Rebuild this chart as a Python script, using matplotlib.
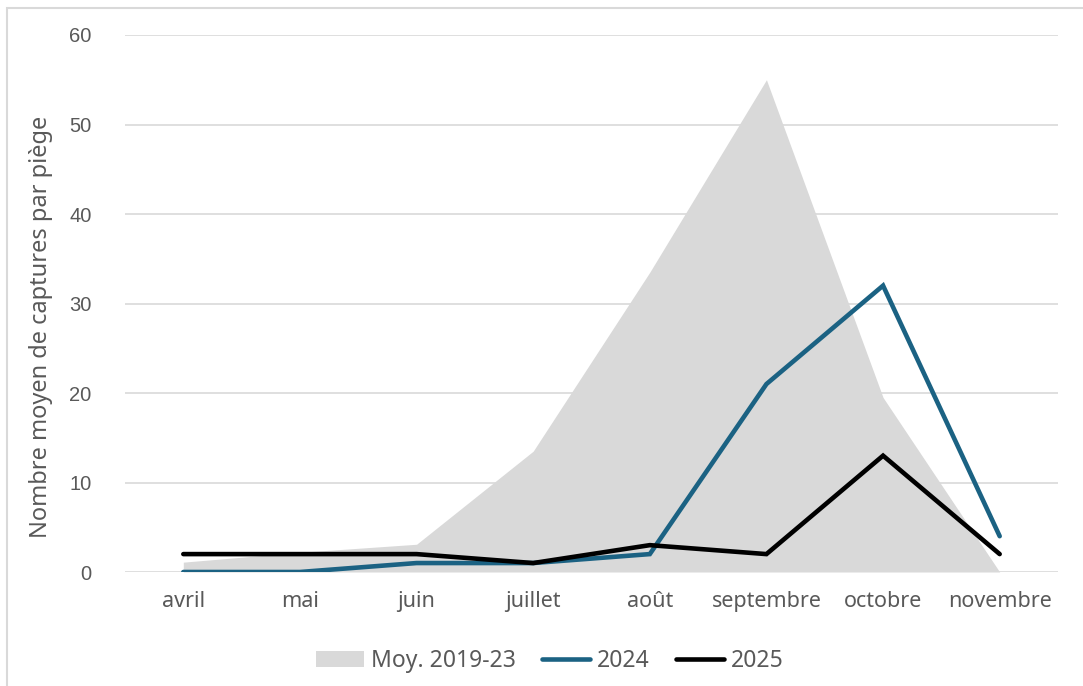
import matplotlib
matplotlib.use("Agg")
import matplotlib.pyplot as plt
from matplotlib.patches import Rectangle

# moyenne de captures par piège, par mois
mois = ["avril", "mai", "juin", "juillet", "août", "septembre", "octobre", "novembre"]
moy_2019_23 = [1.1, 2.2, 3.1, 13.5, 33.5, 55, 19.5, 0]
captures_2024 = [0, 0, 1, 1, 2, 21, 32, 4]
captures_2025 = [2, 2, 2, 1, 3, 2, 13, 2]

plt.rcParams["font.family"] = ["Noto Sans", "DejaVu Sans"]
gris_texte = "#595959"

fig = plt.figure(figsize=(10.83, 6.86), dpi=100)
ax = fig.add_axes([125 / 1083, 1 - 572 / 686, (1058 - 125) / 1083, (572 - 35) / 686])

# cadre du graphique (haut et gauche visibles)
fig.patches.append(Rectangle((7 / 1083, -0.1), 1.2, 1 - 8 / 686 + 0.1,
                             transform=fig.transFigure, fill=False,
                             edgecolor="#d9d9d9", linewidth=1.5))

x = list(range(len(mois)))
ax.fill_between(x, moy_2019_23, 0, color="#d9d9d9", linewidth=0, label="Moy. 2019-23", zorder=2)
ax.plot(x, captures_2024, color="#1b6283", linewidth=3.3, solid_capstyle="round",
        solid_joinstyle="miter", label="2024", zorder=3)
ax.plot(x, captures_2025, color="black", linewidth=3.3, solid_capstyle="round",
        solid_joinstyle="miter", label="2025", zorder=4)

ax.set_xlim(-0.5, len(mois) - 0.5)
ax.set_ylim(0, 60)
ax.set_yticks(range(0, 61, 10))
ax.set_xticks(x)
ax.set_xticklabels(mois)
ax.grid(axis="y", color="#d9d9d9", linewidth=1.2, zorder=1)
ax.set_axisbelow(True)
for s in ax.spines.values():
    s.set_visible(False)
ax.tick_params(axis="both", length=0, colors=gris_texte)
ax.tick_params(axis="x", pad=14, labelsize=15.5)
ax.tick_params(axis="y", pad=24, labelsize=14.5)
for lab in ax.get_yticklabels():
    lab.set_fontfamily(["Liberation Sans", "DejaVu Sans"])
ax.set_ylabel("Nombre moyen de captures par piège", color=gris_texte, fontsize=17, labelpad=12)
ax.yaxis.set_label_coords(-0.077, 0.456)

leg = ax.legend(loc="upper center", bbox_to_anchor=(0.4555, -0.105), ncol=3, frameon=False,
                fontsize=16.5, handlelength=2.1, handletextpad=0.3, columnspacing=1.15)
for t in leg.get_texts():
    t.set_color(gris_texte)

fig.savefig("out.png", dpi=100)
